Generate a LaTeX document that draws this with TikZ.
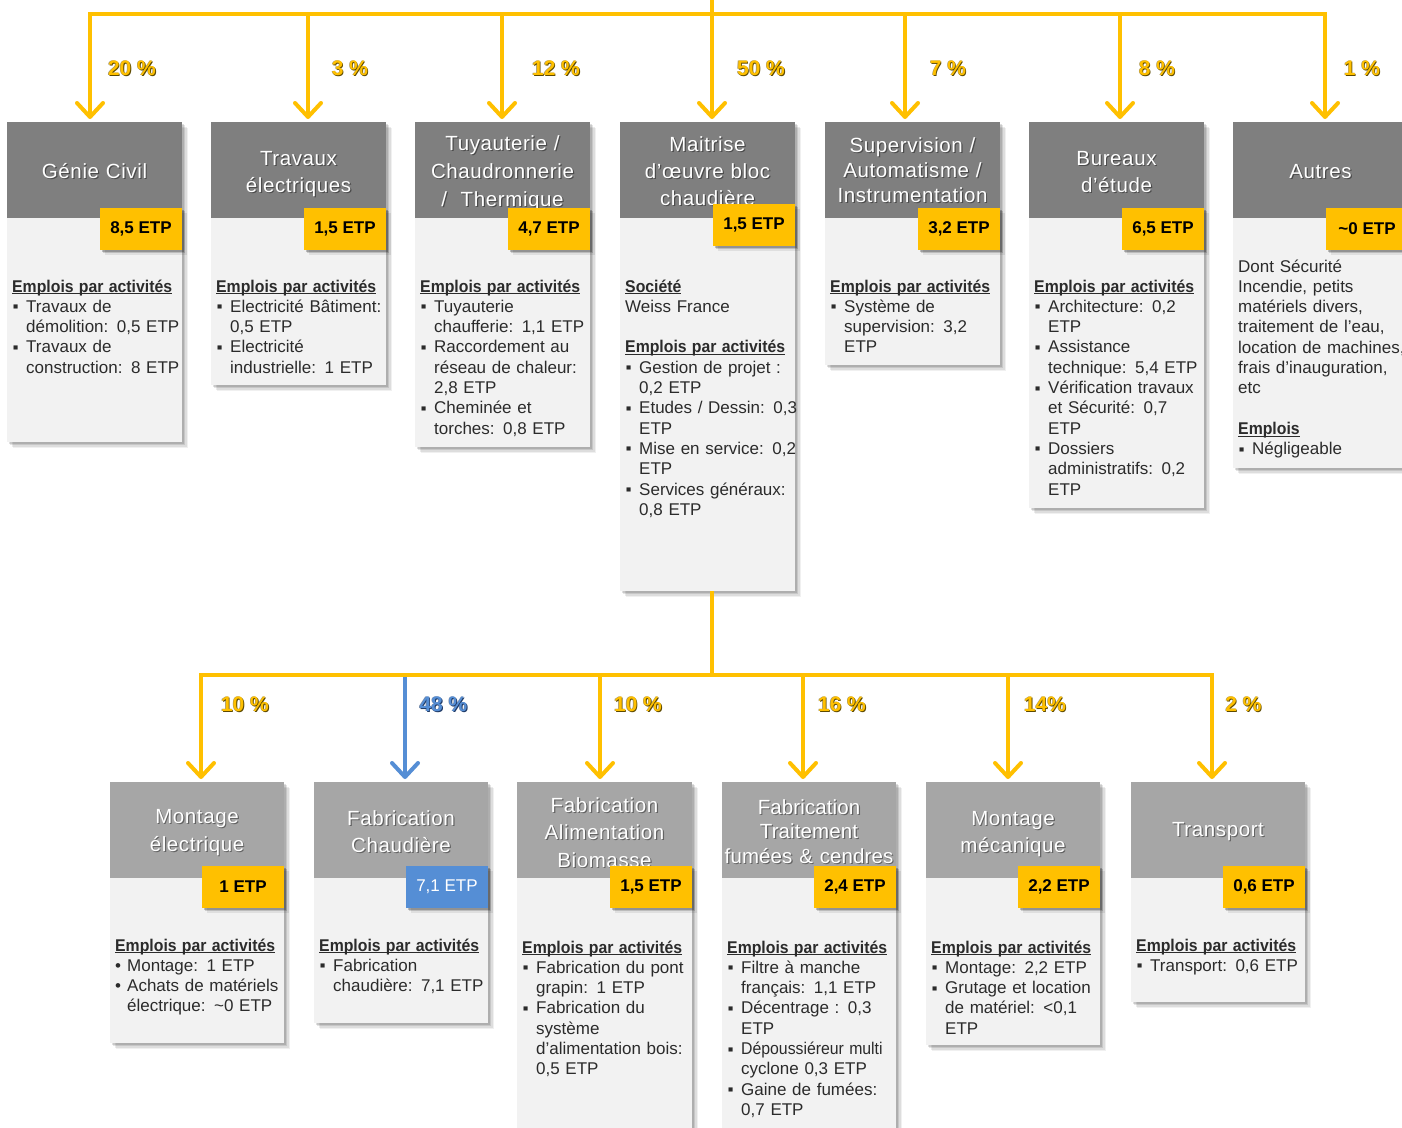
\documentclass[tikz,border=0pt]{standalone}
\usepackage{fontspec}
\usepackage{graphicx}
\setmainfont{Liberation Sans}
\newfontfamily\ttlf{Liberation Sans}[LetterSpace=3]
\newfontfamily\ttlg{Liberation Sans}[LetterSpace=0.5]
\usetikzlibrary{arrows.meta}
\definecolor{ylw}{HTML}{FFC000}
\definecolor{ylwd}{HTML}{5E4A00}
\definecolor{blu}{HTML}{558ED5}
\definecolor{blud}{HTML}{1F3A66}
\definecolor{hdA}{HTML}{7F7F7F}
\definecolor{hdB}{HTML}{A6A6A6}
\definecolor{bodyc}{HTML}{F2F2F2}
\definecolor{txt}{HTML}{2B2B2B}
\newlength\ulw
\newcommand{\ul}[1]{\settowidth{\ulw}{#1}\rlap{\rule[-2.2pt]{\ulw}{1.1pt}}#1}
\newcommand{\hdg}[1]{\ul{\scalebox{0.93}[1]{\bfseries #1}}}
\newcommand{\itm}[1]{\par\noindent\hangindent=14pt\hangafter=1\makebox[14pt][l]{\hspace{1pt}\raisebox{2.5pt}{\fontsize{8.5}{8}\selectfont ■}}#1}
\newcommand{\itmr}[1]{\par\noindent\hangindent=12pt\hangafter=1\makebox[12pt][l]{•}#1}
\newcommand{\gap}{\par\mbox{}\par\noindent}
\newcommand{\shbox}[4]{\foreach \sa/\sb in {1.5/0.12,3/0.10,4.5/0.08,6/0.06}{\fill[black,fill opacity=\sb] ({#1+\sa},{#2+\sa}) rectangle ({#3+\sa},{#4+\sa});}}
\newcommand{\mkbox}[7]{%
 \shbox{#2}{#4}{#2+#3}{#6}
 \node[part,fill=bodyc,minimum width=#3pt,minimum height={#6-#5}] (#1b) at ({#2+#3/2},{(#5+#6)/2}) {};
 \node[part,fill=#7,minimum width=#3pt,minimum height={#5-#4}] (#1) at ({#2+#3/2},{(#4+#5)/2}) {};}
\newcommand{\badge}[5]{%
 \foreach \sa/\sb in {1.5/0.22,3/0.15,4.5/0.08}{\fill[black,fill opacity=\sb] ({#2-82+\sa},{#3-21+\sa}) rectangle ({#2+\sa},{#3+21+\sa});}
 \node[badge,fill=ylw,#4] (#1) at ({#2-41},#3) {#5};}
\newcommand{\pct}[6]{\node[pctf,text=#5] at ({#2+0.8},{#3+0.8}) {#6};\node[pctf,text=#5,opacity=0.6] at ({#2-0.6},{#3+0.3}) {#6};\node[pctf,text=#4] (#1) at (#2,#3) {#6};}
\newcommand{\ttl}[7][\ttlf]{\begin{scope}\clip ({#3-88},{#6-95}) rectangle ({#3+88},#6);
 \node[ttlnode,text=black,opacity=0.4,font=#1\fontsize{20.5}{#5}\selectfont] at ({#3+1.2},{#4+1.2}) {#7\par};
 \node[ttlnode,font=#1\fontsize{20.5}{#5}\selectfont] (#2) at (#3,#4) {#7\par};\end{scope}}
\begin{document}
\begin{tikzpicture}[x=1pt,y=-1pt,
  ln/.style={line width=4pt,draw=ylw,line cap=rect},
  arr/.style={line width=4pt,draw=ylw,-{Straight Barb[length=14pt,width=26pt,round]},shorten >=3pt},
  part/.style={draw=none,inner sep=0pt,outer sep=0pt},
  ttlnode/.style={anchor=base,text width=180pt,align=center,inner sep=0pt,text=white},
  btxt/.style={anchor=base west,text width=190pt,align=left,inner sep=0pt,text=txt,font=\fontsize{17}{20.3}\selectfont},
  badge/.style={draw=none,inner sep=0pt,minimum width=82pt,minimum height=42pt,font=\bfseries\fontsize{17}{20}\selectfont,text=black},
  pctf/.style={inner sep=0pt,font=\bfseries\fontsize{21}{24}\selectfont}]
\useasboundingbox (0,0) rectangle (1402,1127);
\fill[white] (0,0) rectangle (1402,1127);

% ---------- top row ----------
\mkbox{h1}{7}{175}{122}{218}{442}{hdA}
\ttl{ti1}{94.5}{178}{28}{208}{Génie Civil}
\badge{e1}{182}{229}{}{8,5 ETP}
\node[btxt] (x1) at (12,292) {\hdg{Emplois par activités}\itm{Travaux de\newline démolition: 0,5 ETP}\itm{Travaux de\newline construction: 8 ETP}\par};

\mkbox{h2}{211}{175}{122}{218}{385}{hdA}
\ttl{ti2}{298.5}{165}{27}{208}{Travaux\\électriques}
\badge{e2}{386}{229}{}{1,5 ETP}
\node[btxt] (x2) at (216,292) {\hdg{Emplois par activités}\itm{Electricité Bâtiment:\newline 0,5 ETP}\itm{Electricité\newline industrielle: 1 ETP}\par};

\mkbox{h3}{415}{175}{122}{218}{447}{hdA}
\ttl{ti3}{502.5}{150}{28}{208}{Tuyauterie /\\Chaudronnerie\\/ \ Thermique}
\badge{e3}{590}{229}{}{4,7 ETP}
\node[btxt] (x3) at (420,292) {\hdg{Emplois par activités}\itm{Tuyauterie\newline chaufferie: 1,1 ETP}\itm{Raccordement au\newline réseau de chaleur:\newline 2,8 ETP}\itm{Cheminée et\newline torches: 0,8 ETP}\par};

\mkbox{h4}{620}{175}{122}{218}{591}{hdA}
\ttl{ti4}{707.5}{151}{27}{208}{Maitrise\\d’œuvre bloc\\chaudière}
\badge{e4}{795}{225}{}{1,5 ETP}
\node[btxt] (x4) at (625,292) {\hdg{Société}\newline Weiss France\gap\hdg{Emplois par activités}\itm{Gestion de projet :\newline 0,2 ETP}\itm{Etudes / Dessin: 0,3\newline ETP}\itm{Mise en service: 0,2\newline ETP}\itm{Services généraux:\newline 0,8 ETP}\par};

\mkbox{h5}{825}{175}{122}{218}{365}{hdA}
\ttl{ti5}{912.5}{152}{25}{208}{Supervision /\\Automatisme /\\Instrumentation}
\badge{e5}{1000}{229}{}{3,2 ETP}
\node[btxt] (x5) at (830,292) {\hdg{Emplois par activités}\itm{Système de\newline supervision: 3,2\newline ETP}\par};

\mkbox{h6}{1029}{175}{122}{218}{508}{hdA}
\ttl{ti6}{1116.5}{165}{27}{208}{Bureaux\\d’étude}
\badge{e6}{1204}{229}{}{6,5 ETP}
\node[btxt] (x6) at (1034,292) {\hdg{Emplois par activités}\itm{Architecture: 0,2\newline ETP}\itm{Assistance\newline technique: 5,4 ETP}\itm{Vérification travaux\newline et Sécurité: 0,7\newline ETP}\itm{Dossiers\newline administratifs: 0,2\newline ETP}\par};

\mkbox{h7}{1233}{175}{122}{218}{468}{hdA}
\ttl{ti7}{1320.5}{178}{28}{208}{Autres}
\badge{e7}{1408}{229}{}{\textasciitilde0 ETP}
\node[btxt] (x7) at (1238,272) {Dont Sécurité\newline Incendie, petits\newline matériels divers,\newline traitement de l’eau,\newline location de machines,\newline frais d’inauguration,\newline etc\gap\hdg{Emplois}\itm{Négligeable}\par};

% ---------- bottom row ----------
\mkbox{hb1}{110}{174}{782}{878}{1043}{hdB}
\ttl{tb1}{197}{823}{28}{867}{Montage\\électrique}
\badge{f1}{284}{887}{}{1 ETP}
\node[btxt] (y1) at (115,951) {\hdg{Emplois par activités}\itmr{Montage: 1 ETP}\itmr{Achats de matériels\newline électrique: \textasciitilde0 ETP}\par};

\mkbox{hb2}{314}{174}{782}{878}{1023}{hdB}
\ttl{tb2}{401}{825}{27}{867}{Fabrication\\Chaudière}
\badge{f2}{488}{887}{fill=blu,text=white,font=\fontsize{17}{20}\selectfont}{7,1 ETP}
\node[btxt] (y2) at (319,951) {\hdg{Emplois par activités}\itm{Fabrication\newline chaudière: 7,1 ETP}\par};

\mkbox{hb3}{517}{175}{782}{878}{1140}{hdB}
\ttl{tb3}{604.5}{812}{27.5}{867}{Fabrication\\Alimentation\\Biomasse}
\badge{f3}{692}{887}{}{1,5 ETP}
\node[btxt] (y3) at (522,953) {\hdg{Emplois par activités}\itm{Fabrication du pont\newline grapin: 1 ETP}\itm{Fabrication du\newline système\newline d’alimentation bois:\newline 0,5 ETP}\par};

\mkbox{hb4}{722}{174}{782}{878}{1140}{hdB}
\ttl[\ttlg]{tb4}{809}{814}{24.5}{868}{Fabrication\\Traitement\\fumées \& cendres}
\badge{f4}{896}{887}{}{2,4 ETP}
\node[btxt] (y4) at (727,953) {\hdg{Emplois par activités}\itm{Filtre à manche\newline français: 1,1 ETP}\itm{Décentrage : 0,3\newline ETP}\itm{\scalebox{0.93}[1]{Dépoussiéreur multi}\newline cyclone 0,3 ETP}\itm{Gaine de fumées:\newline 0,7 ETP}\par};

\mkbox{hb5}{926}{174}{782}{878}{1045}{hdB}
\ttl{tb5}{1013}{825}{27}{867}{Montage\\mécanique}
\badge{f5}{1100}{887}{}{2,2 ETP}
\node[btxt] (y5) at (931,953) {\hdg{Emplois par activités}\itm{Montage: 2,2 ETP}\itm{Grutage et location\newline de matériel: \textless0,1\newline ETP}\par};

\mkbox{hb6}{1131}{174}{782}{878}{1002}{hdB}
\ttl{tb6}{1218}{836}{28}{867}{Transport}
\badge{f6}{1305}{887}{}{0,6 ETP}
\node[btxt] (y6) at (1136,951) {\hdg{Emplois par activités}\itm{Transport: 0,6 ETP}\par};

% ---------- connectors top ----------
\coordinate (root) at (712,0);
\coordinate (t1) at (90,14);
\coordinate (t2) at (308,14);
\coordinate (t3) at (502,14);
\coordinate (t4) at (712,14);
\coordinate (t5) at (905,14);
\coordinate (t6) at (1120,14);
\coordinate (t7) at (1325,14);
\draw[arr] (t1) -- (t1 |- h1.north);
\draw[arr] (t2) -- (t2 |- h2.north);
\draw[arr] (t3) -- (t3 |- h3.north);
\draw[arr] (t4) -- (t4 |- h4.north);
\draw[arr] (t5) -- (t5 |- h5.north);
\draw[arr] (t6) -- (t6 |- h6.north);
\draw[arr] (t7) -- (t7 |- h7.north);
\draw[ln] (root) -- (t4);
\draw[ln] (t1) -- (t7);

% ---------- connectors bottom ----------
\coordinate (mt) at (712,591);
\coordinate (m0) at (712,675);
\coordinate (u1) at (201,675);
\coordinate (u2) at (405,675);
\coordinate (u3) at (600,675);
\coordinate (u4) at (803,675);
\coordinate (u5) at (1008,675);
\coordinate (u6) at (1212,675);
\draw[arr] (u1) -- (u1 |- hb1.north);
\draw[arr,draw=blu] (u2) -- (u2 |- hb2.north);
\draw[arr] (u3) -- (u3 |- hb3.north);
\draw[arr] (u4) -- (u4 |- hb4.north);
\draw[arr] (u5) -- (u5 |- hb5.north);
\draw[arr] (u6) -- (u6 |- hb6.north);
\draw[ln,line cap=butt] (mt) -- (m0);
\draw[ln] (u1) -- (u6);

% ---------- percentages ----------
\pct{p1}{132}{68}{ylw}{ylwd}{20 \%}
\pct{p2}{350}{68}{ylw}{ylwd}{3 \%}
\pct{p3}{556}{68}{ylw}{ylwd}{12 \%}
\pct{p4}{761}{68}{ylw}{ylwd}{50 \%}
\pct{p5}{948}{68}{ylw}{ylwd}{7 \%}
\pct{p6}{1157}{68}{ylw}{ylwd}{8 \%}
\pct{p7}{1362}{68}{ylw}{ylwd}{1 \%}
\pct{q1}{245}{704}{ylw}{ylwd}{10 \%}
\pct{q2}{443.5}{704}{blu}{blud}{48 \%}
\pct{q3}{638}{704}{ylw}{ylwd}{10 \%}
\pct{q4}{842}{704}{ylw}{ylwd}{16 \%}
\pct{q5}{1045}{704}{ylw}{ylwd}{14\%}
\pct{q6}{1243.5}{704}{ylw}{ylwd}{2 \%}
\end{tikzpicture}
\end{document}
